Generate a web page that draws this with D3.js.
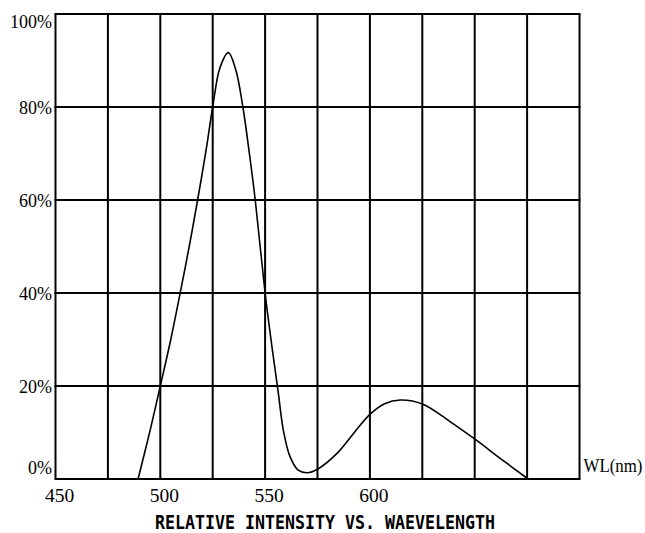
<!DOCTYPE html>
<html>
<head>
<meta charset="utf-8">
<script src="https://cdn.jsdelivr.net/npm/d3@7"></script>
<style>
  body { margin: 0; background: #fff; }
  svg { display: block; }
</style>
</head>
<body>
<div class="graph"></div>
<script>
// Data
let wavelengths = [489.4, 495, 500, 505, 509.4, 513.8, 517.8, 521.8, 525, 528.5, 532.5, 536, 539.4, 542.5, 545.3, 550, 553.4, 556.3, 558.7, 561.9, 565.8, 570, 575, 584.3, 592.2, 600, 607, 614.5, 625.3, 638.4, 650.3, 662.3, 675.5];
let intensities = [0, 10.2, 20, 30, 39.8, 50, 60, 70.6, 80, 88.5, 91.7, 88, 80, 70, 60, 40, 28, 18.5, 10.5, 4.8, 1.9, 1.35, 2.1, 5.5, 9.8, 13.9, 16.2, 17, 16.1, 12.3, 8.5, 4.4, 0];
let xTicks = [450, 500, 550, 600];
let xGrid = [450, 475, 500, 525, 550, 575, 600, 625, 650, 675, 700];
let yTicks = [0, 20, 40, 60, 80, 100];

// Global Variables
let width = 645;
let height = 533;
let plotLeft = 55.5, plotRight = 579.5, plotTop = 14, plotBottom = 479;

let x = d3.scaleLinear().domain([450, 700]).range([plotLeft, plotRight]);
let y = d3.scaleLinear().domain([0, 100]).range([plotBottom, plotTop]);

let svg = d3
  .select(".graph")
  .append("svg")
  .attr("width", width)
  .attr("height", height);

// Grid
svg
  .append("g")
  .selectAll("line")
  .data(xGrid)
  .enter()
  .append("line")
  .attr("x1", (d) => x(d))
  .attr("x2", (d) => x(d))
  .attr("y1", plotTop)
  .attr("y2", plotBottom)
  .attr("stroke", "#000")
  .attr("stroke-width", 2);

svg
  .append("g")
  .selectAll("line")
  .data(yTicks)
  .enter()
  .append("line")
  .attr("x1", plotLeft - 1)
  .attr("x2", plotRight + 1)
  .attr("y1", (d) => y(d))
  .attr("y2", (d) => y(d))
  .attr("stroke", "#000")
  .attr("stroke-width", 2);

// Y labels
svg
  .append("g")
  .selectAll("text")
  .data(yTicks)
  .enter()
  .append("text")
  .attr("x", 52)
  .attr("y", function (d) {
    if (d === 100) return y(d) + 13.5;
    if (d === 0) return y(d) - 5;
    return y(d) + 6.5;
  })
  .attr("text-anchor", "end")
  .attr("font-family", "'Liberation Serif', serif")
  .attr("font-size", 18)
  .text((d) => d + "%");

// X labels
svg
  .append("g")
  .selectAll("text")
  .data(xTicks)
  .enter()
  .append("text")
  .attr("x", (d) => x(d) + 4)
  .attr("y", 501.5)
  .attr("text-anchor", "middle")
  .attr("font-family", "'Liberation Serif', serif")
  .attr("font-size", 19.5)
  .text((d) => d);

svg
  .append("text")
  .attr("x", 583.5)
  .attr("y", 471.5)
  .attr("font-family", "'Liberation Serif', serif")
  .attr("font-size", 18)
  .attr("textLength", 59)
  .attr("lengthAdjust", "spacingAndGlyphs")
  .text("WL(nm)");

// Title
svg
  .append("text")
  .attr("x", 155)
  .attr("y", 528.5)
  .attr("font-family", "'DejaVu Sans Mono', monospace")
  .attr("font-weight", "bold")
  .attr("font-size", 19)
  .attr("textLength", 340)
  .attr("lengthAdjust", "spacingAndGlyphs")
  .text("RELATIVE INTENSITY VS. WAEVELENGTH");

// Curve
let line = d3
  .line()
  .x((d, i) => x(wavelengths[i]))
  .y((d) => y(d))
  .curve(d3.curveCatmullRom.alpha(0.5));

svg
  .append("path")
  .datum(intensities)
  .attr("d", line)
  .attr("fill", "none")
  .attr("stroke", "#000")
  .attr("stroke-width", 1.6);
</script>
</body>
</html>
